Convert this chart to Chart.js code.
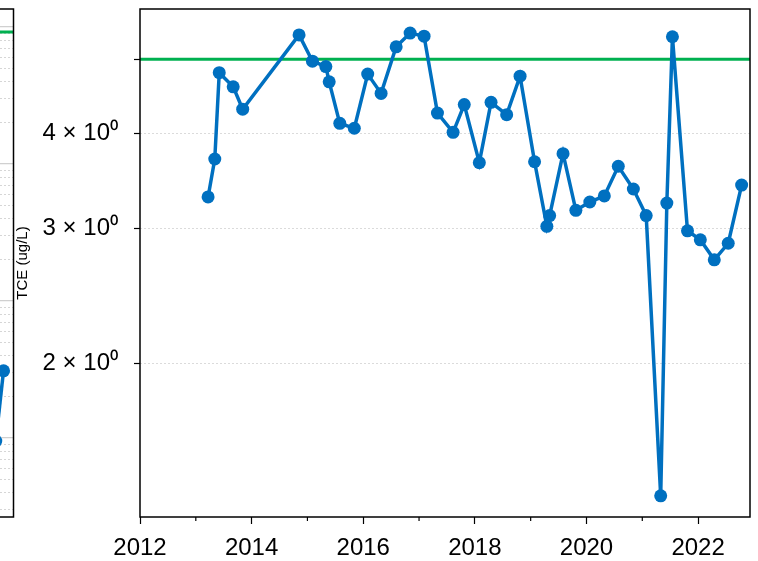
<!DOCTYPE html>
<html>
<head>
<meta charset="utf-8">
<script src="https://cdn.jsdelivr.net/npm/chart.js@4.4.1/dist/chart.umd.min.js"></script>
<style>
    html, body { margin: 0; padding: 0; background: #fff; }
    #wrap { position: relative; width: 758px; height: 561px; overflow: hidden; }
    #leftChart { position: absolute; left: -600px; top: 0; }
    #tceChart { position: absolute; left: 0; top: 0; }
</style>
</head>
<body>
<div id="wrap">
    <canvas id="leftChart" width="620" height="561"></canvas>
    <canvas id="tceChart" width="758" height="561"></canvas>
</div>
<script>
// main panel: TCE samples (decimal year, ug/L)
const sampleYears = [2013.22, 2013.34, 2013.42, 2013.67, 2013.84, 2014.85, 2015.09, 2015.33, 2015.39, 2015.58,
    2015.84, 2016.08, 2016.32, 2016.59, 2016.84, 2017.09, 2017.33, 2017.61, 2017.81, 2018.08,
    2018.29, 2018.57, 2018.81, 2019.07, 2019.29, 2019.34, 2019.58, 2019.81, 2020.06, 2020.32,
    2020.57, 2020.84, 2021.07, 2021.33, 2021.44, 2021.54, 2021.81, 2022.04, 2022.29, 2022.54, 2022.78];
const tceValues = [3.30, 3.70, 4.80, 4.60, 4.30, 5.38, 4.97, 4.89, 4.67, 4.12,
    4.06, 4.78, 4.51, 5.19, 5.41, 5.36, 4.25, 4.01, 4.36, 3.66,
    4.39, 4.23, 4.75, 3.67, 3.02, 3.12, 3.76, 3.17, 3.25, 3.31,
    3.62, 3.38, 3.12, 1.34, 3.24, 5.35, 2.98, 2.90, 2.73, 2.87, 3.42];
const mclLevel = 5;

const tickYears = [2012, 2013, 2014, 2015, 2016, 2017, 2018, 2019, 2020, 2021, 2022];
const yTickValues = [2, 3, 4, 5];
const yTickLabels = ['2 \u00d7 10\u2070', '3 \u00d7 10\u2070', '4 \u00d7 10\u2070', ''];

// left neighbour panel (only its right edge shows)
const leftYears = [2022.61, 2022.75];
const leftValues = [0.95, 3.09];
const leftLimit = 920;
const leftMajorTicks = [1, 10, 100, 1000];
const leftMinorTicks = [0.3, 0.4, 0.5, 0.6, 0.7, 0.8, 0.9, 2, 3, 4, 5, 6, 7, 8, 9,
    20, 30, 40, 50, 60, 70, 80, 90, 200, 300, 400, 500, 600, 700, 800, 900];

const xRange = [2012, 2022.93];
const yRange = [1.257, 5.817];
const leftYRange = [0.265, 1353];

const BLUE = '#0070C0';
const GREEN = '#00B050';
const FONT = '"Liberation Sans", Arial, sans-serif';

const framePlugin = {
    id: 'frame',
    afterDraw(chart) {
        const {ctx, chartArea: a} = chart;
        ctx.save();
        ctx.strokeStyle = '#000';
        ctx.lineWidth = 1.5;
        ctx.strokeRect(a.left, a.top, a.right - a.left, a.bottom - a.top);
        // minor year ticks
        const xs = chart.scales.x;
        if (xs.options.display) {
            ctx.lineWidth = 1.2;
            tickYears.filter(y => y % 2 !== 0).forEach(y => {
                const px = xs.getPixelForValue(y);
                ctx.beginPath();
                ctx.moveTo(px, a.bottom);
                ctx.lineTo(px, a.bottom + 4);
                ctx.stroke();
            });
        }
        ctx.restore();
    }
};

const pts = (xs, ys) => xs.map((x, i) => ({x: x, y: ys[i]}));

new Chart(document.getElementById('leftChart'), {
    type: 'line',
    data: {
        datasets: [{
            data: pts(leftYears, leftValues),
            borderColor: BLUE,
            backgroundColor: BLUE,
            borderWidth: 3.5,
            pointRadius: 6.5,
            pointBorderWidth: 0
        }, {
            data: pts(xRange, [leftLimit, leftLimit]),
            borderColor: GREEN,
            borderWidth: 3,
            pointRadius: 0
        }]
    },
    options: {
        responsive: false,
        animation: false,
        layout: {padding: {left: 8, right: 2, top: 9, bottom: 44}},
        plugins: {legend: {display: false}, tooltip: {enabled: false}},
        scales: {
            x: {type: 'linear', min: xRange[0], max: xRange[1], display: false},
            yMinor: {
                type: 'logarithmic', position: 'left', min: leftYRange[0], max: leftYRange[1],
                afterBuildTicks: s => { s.ticks = leftMinorTicks.map(v => ({value: v})); },
                afterFit: s => { s.width = 0; s.paddingTop = 0; s.paddingBottom = 0; },
                ticks: {display: false},
                grid: {color: 'rgba(0,0,0,0.16)', lineWidth: 1, drawTicks: false},
                border: {display: false, dash: [2, 2]}
            },
            y: {
                type: 'logarithmic', position: 'left', min: leftYRange[0], max: leftYRange[1],
                afterBuildTicks: s => { s.ticks = leftMajorTicks.map(v => ({value: v})); },
                afterFit: s => { s.width = 0; s.paddingTop = 0; s.paddingBottom = 0; },
                ticks: {display: false},
                grid: {color: '#d0d0d0', lineWidth: 1.2, drawTicks: false},
                border: {display: false}
            }
        }
    },
    plugins: [framePlugin]
});

new Chart(document.getElementById('tceChart'), {
    type: 'line',
    data: {
        datasets: [{
            label: 'TCE',
            data: pts(sampleYears, tceValues),
            borderColor: BLUE,
            backgroundColor: BLUE,
            borderWidth: 3.5,
            pointRadius: 6.5,
            pointBorderWidth: 0,
            tension: 0
        }, {
            label: 'MCL',
            data: pts(xRange, [mclLevel, mclLevel]),
            borderColor: GREEN,
            borderWidth: 3,
            pointRadius: 0
        }]
    },
    options: {
        responsive: false,
        animation: false,
        layout: {padding: {left: 0, right: 8, top: 9, bottom: 0}},
        plugins: {legend: {display: false}, tooltip: {enabled: false}},
        scales: {
            x: {
                type: 'linear',
                min: xRange[0],
                max: xRange[1],
                afterBuildTicks: s => { s.ticks = tickYears.map(v => ({value: v})); },
                afterFit: s => { s.height = 44; s.paddingLeft = 0; s.paddingRight = 0; },
                ticks: {
                    callback: v => (v % 2 === 0 ? String(v) : ''),
                    autoSkip: false,
                    maxRotation: 0,
                    padding: 10,
                    color: '#000',
                    font: {family: FONT, size: 24}
                },
                grid: {
                    drawOnChartArea: false,
                    tickLength: 7,
                    tickWidth: 1.2,
                    tickColor: c => (c.tick && c.tick.value % 2 === 0 ? '#000' : 'rgba(0,0,0,0)')
                },
                border: {display: false}
            },
            y: {
                type: 'logarithmic',
                min: yRange[0],
                max: yRange[1],
                afterBuildTicks: s => { s.ticks = yTickValues.map(v => ({value: v})); },
                afterFit: s => { s.width = 140; s.paddingTop = 0; s.paddingBottom = 0; },
                ticks: {
                    callback: (v, i) => yTickLabels[i],
                    padding: 16,
                    color: '#000',
                    font: {family: FONT, size: 24}
                },
                grid: {
                    color: 'rgba(0,0,0,0.14)',
                    lineWidth: 1,
                    tickLength: 6,
                    tickWidth: 1.2,
                    tickColor: '#000',
                    tickBorderDash: []
                },
                border: {display: false, dash: [2, 2]},
                title: {
                    display: true,
                    text: 'TCE (ug/L)',
                    color: '#000',
                    font: {family: FONT, size: 15},
                    padding: {top: 14, bottom: 0}
                }
            }
        }
    },
    plugins: [framePlugin]
});
</script>
</body>
</html>
